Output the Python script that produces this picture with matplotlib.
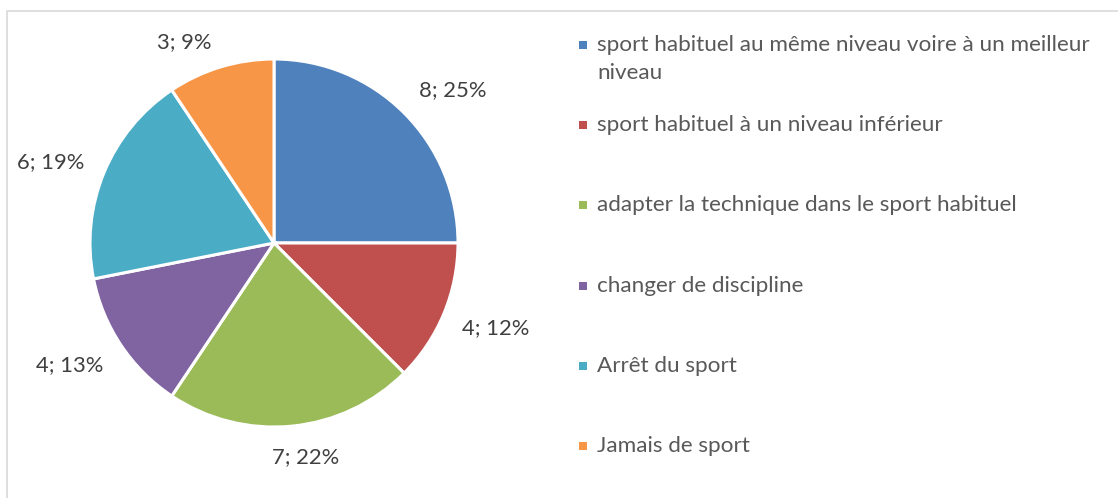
import matplotlib
matplotlib.use("Agg")
import numpy as np
import matplotlib.pyplot as plt
from matplotlib.patches import Rectangle

# ----------------------------
# Data
# ----------------------------
categories = [
    "sport habituel au même niveau voire à un meilleur\nniveau",
    "sport habituel à un niveau inférieur",
    "adapter la technique dans le sport habituel",
    "changer de discipline",
    "Arrêt du sport",
    "Jamais de sport",
]
counts = [8, 4, 7, 4, 6, 3]
point_labels = ["8; 25%", "4; 12%", "7; 22%", "4; 13%", "6; 19%", "3; 9%"]
colors = ["#4F81BD", "#C0504D", "#9BBB59", "#8064A2", "#4BACC6", "#F79646"]

# manual label nudges (screen px, x right / y down), like Excel's best fit
label_nudge = [(14, 12), (2, -6), (10, -2), (-8, -9), (-4, 10), (-25, 12)]

# ----------------------------
# Figure in pixel units
# ----------------------------
W, H = 1118, 498
fig = plt.figure(figsize=(W / 100, H / 100), dpi=100)
ax = fig.add_axes([0, 0, 1, 1])

font = "Lato"
label_color = "#404040"
legend_color = "#595959"

cx, cy, r = 274, H - 243, 184
wedges, _ = ax.pie(
    counts,
    colors=colors,
    startangle=90,
    counterclock=False,
    center=(cx, cy),
    radius=r,
    wedgeprops=dict(edgecolor="white", linewidth=2.2),
)

# data labels outside the slices, box edge kept ~20px off the rim
gap, half_w, half_h = 20, 32, 10
for w, lab, (nx, ny) in zip(wedges, point_labels, label_nudge):
    ang = np.deg2rad((w.theta1 + w.theta2) / 2)
    c, s = np.cos(ang), np.sin(ang)
    d = r + gap + half_w * abs(c) + half_h * abs(s)
    ax.text(cx + d * c + nx, cy + d * s - ny, lab, ha="center", va="center",
            fontsize=15.8, color=label_color, family=font)

# chart border (runs off the right and bottom of the crop)
ax.add_patch(Rectangle((7, -10), W + 20, H - 11 + 10, fill=False,
                       edgecolor="#D9D9D9", linewidth=1.2))

# ----------------------------
# Legend
# ----------------------------
row_y0, row_step, line_h = 45, 80.2, 28
for i, (cat, col) in enumerate(zip(categories, colors)):
    y = row_y0 + i * row_step
    ax.scatter([583], [H - y], marker="s", s=34, color=col, linewidths=0)
    for j, line in enumerate(cat.split("\n")):
        ax.text(597, H - y - j * line_h, line, va="center", ha="left",
                fontsize=16.2, color=legend_color, family=font)

ax.set_xlim(0, W)
ax.set_ylim(0, H)
ax.axis("off")

plt.savefig("out.png", dpi=100)
